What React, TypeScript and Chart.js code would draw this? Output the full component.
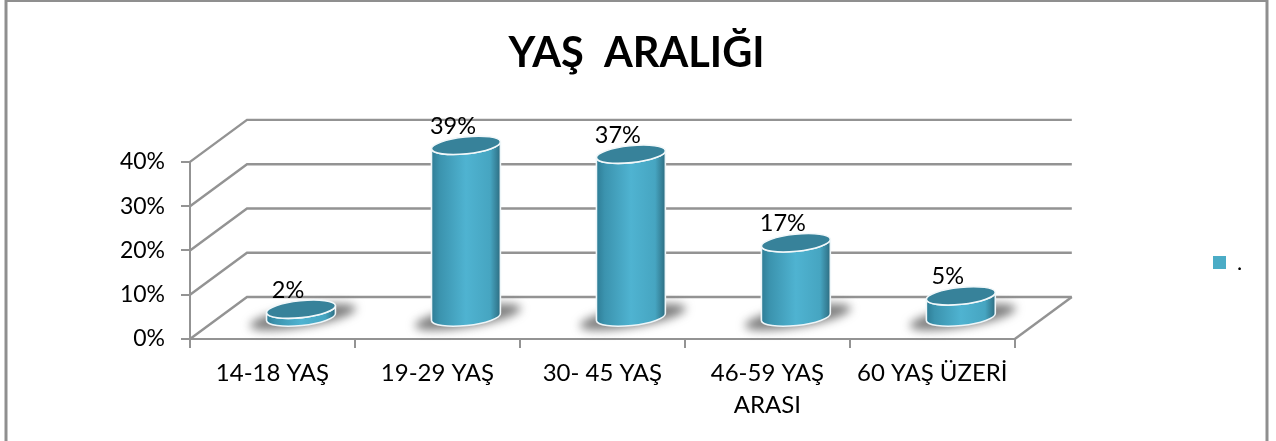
import React, { useEffect, useRef } from "react";
import { Chart, registerables } from "chart.js";

Chart.register(...registerables);

const categories = [["14-18 YAŞ"], ["19-29 YAŞ"], ["30- 45 YAŞ"], ["46-59 YAŞ", "ARASI"], ["60 YAŞ ÜZERİ"]];
const values = [2, 39, 37, 17, 5];
const titleText = "YAŞ  ARALIĞI";
const seriesName = ".";
const yTicks = [0, 10, 20, 30, 40];

const FONT = "Lato, Carlito, sans-serif";
const GRID = "#939393";
const TEAL = "#4bacc6";
const DEPTH_X = 57;
const DEPTH_Y = 42;

const scene = {
  id: "scene",
  afterLayout(chart: any) {
    const lg = chart.legend;
    const w = lg.right - lg.left;
    lg.left = 1203;
    lg.right = 1203 + w;
    lg.top = 202;
    lg.bottom = 323;
    const t = chart.titleBlock;
    t.left = 0;
    t.right = 1273;
  },
  beforeDraw(chart: any) {
    const { ctx, width, height } = chart;
    ctx.save();
    ctx.fillStyle = "#fff";
    ctx.fillRect(0, 0, width, height);
    ctx.strokeStyle = "#8f8f8f";
    ctx.lineWidth = 3;
    ctx.strokeRect(6, 0.5, 1261, height + 10);
    ctx.restore();
  },
  beforeDatasetsDraw(chart: any) {
    const { ctx, chartArea, scales } = chart;
    ctx.save();
    ctx.strokeStyle = GRID;
    ctx.lineWidth = 2.4;
    scales.y.ticks.forEach((t: any) => {
      const y = scales.y.getPixelForValue(t.value);
      ctx.beginPath();
      ctx.moveTo(chartArea.left, y);
      ctx.lineTo(chartArea.left + DEPTH_X, y - DEPTH_Y);
      ctx.lineTo(chartArea.right + DEPTH_X, y - DEPTH_Y);
      ctx.stroke();
    });
    ctx.beginPath();
    ctx.moveTo(chartArea.right, chartArea.bottom);
    ctx.lineTo(chartArea.right + DEPTH_X, chartArea.bottom - DEPTH_Y);
    ctx.stroke();
    ctx.restore();
  },
  beforeDatasetDraw(chart: any, args: any) {
    const { ctx } = chart;
    const meta = args.meta;
    const tilt = -0.105;
    meta.data.forEach((bar: any) => {
      const cx = bar.x + DEPTH_X / 2;
      const baseY = bar.base - DEPTH_Y / 2;
      const topY = bar.y - DEPTH_Y / 2;
      const rx = bar.width / 2;
      const ry = 8.5;

      // soft floor shadow
      ctx.save();
      ctx.filter = "blur(5px)";
      ctx.fillStyle = "rgba(90,90,90,0.78)";
      ctx.beginPath();
      ctx.ellipse(cx + 2, baseY, rx + 19, ry + 1.5, tilt * 1.6, 0, Math.PI * 2);
      ctx.fill();
      ctx.restore();

      // body
      const grad = ctx.createLinearGradient(cx - rx, 0, cx + rx, 0);
      grad.addColorStop(0, "#2e7c95");
      grad.addColorStop(0.12, "#3b93ae");
      grad.addColorStop(0.5, "#4fb3d1");
      grad.addColorStop(0.85, "#46a5c1");
      grad.addColorStop(0.95, "#357f96");
      grad.addColorStop(1, "#2b6a7e");
      ctx.save();
      ctx.beginPath();
      ctx.ellipse(cx, baseY, rx, ry, tilt, 0, Math.PI);
      ctx.lineTo(cx - rx * Math.cos(tilt), topY - rx * Math.sin(tilt));
      ctx.ellipse(cx, topY, rx, ry, tilt, Math.PI, 0, true);
      ctx.closePath();
      ctx.fillStyle = grad;
      ctx.fill();
      ctx.strokeStyle = "#eef6f9";
      ctx.lineWidth = 1.6;
      ctx.stroke();

      // cap
      ctx.beginPath();
      ctx.ellipse(cx, topY, rx, ry, tilt, 0, Math.PI * 2);
      ctx.fillStyle = "#37829a";
      ctx.fill();
      ctx.strokeStyle = "#f2f8fa";
      ctx.stroke();
      ctx.restore();
    });
    return false;
  },
  afterDatasetsDraw(chart: any) {
    const { ctx } = chart;
    const meta = chart.getDatasetMeta(0);
    ctx.save();
    ctx.fillStyle = "#000";
    ctx.font = `23.5px ${FONT}`;
    ctx.textAlign = "center";
    ctx.textBaseline = "middle";
    meta.data.forEach((bar: any, i: number) => {
      const cx = bar.x + DEPTH_X / 2 - 13;
      const topY = bar.y - DEPTH_Y / 2;
      ctx.fillText(`${values[i]}%`, cx, topY - 19);
    });
    ctx.restore();
  },
};

export default function App() {
  const ref = useRef<HTMLCanvasElement>(null);
  useEffect(() => {
    document.body.style.margin = "0";
    const chart = new Chart(ref.current!, {
      type: "bar",
      data: {
        labels: categories,
        datasets: [
          {
            label: seriesName,
            data: values,
            backgroundColor: TEAL,
            barPercentage: 0.84,
            categoryPercentage: 0.5,
          },
        ],
      },
      options: {
        responsive: false,
        animation: false,
        layout: { padding: { top: 29, left: 8, right: 212, bottom: 0 } },
        plugins: {
          tooltip: { enabled: false },
          title: {
            display: true,
            text: titleText,
            color: "#000",
            font: { family: FONT, size: 41.5, weight: "bold" },
            padding: { top: 0, bottom: 83.1 },
          },
          legend: {
            position: "right",
            labels: {
              boxWidth: 13,
              boxHeight: 13,
              color: "#000",
              font: { family: FONT, size: 22 },
              padding: 10,
            },
          },
        },
        scales: {
          x: {
            afterFit: (s: any) => {
              s.height = 102;
            },
            grid: { drawOnChartArea: false, color: GRID, lineWidth: 2, tickLength: 9, offset: true },
            border: { color: GRID, width: 2 },
            ticks: {
              color: "#000",
              font: { family: FONT, size: 24, lineHeight: 1.35 },
              maxRotation: 0,
              autoSkip: false,
              padding: 9,
            },
          },
          y: {
            min: 0,
            max: 40,
            afterBuildTicks: (s: any) => {
              s.ticks = yTicks.map((value) => ({ value }));
            },
            afterFit: (s: any) => {
              s.width = 182;
            },
            grid: { drawOnChartArea: false, color: GRID, lineWidth: 2, tickLength: 9 },
            border: { color: GRID, width: 2 },
            ticks: {
              color: "#000",
              font: { family: FONT, size: 23 },
              padding: 16,
              callback: (v: any) => `${v}%`,
            },
          },
        },
      },
      plugins: [scene],
    } as any);
    return () => chart.destroy();
  }, []);
  return <canvas ref={ref} width={1276} height={441} style={{ display: "block" }} />;
}
